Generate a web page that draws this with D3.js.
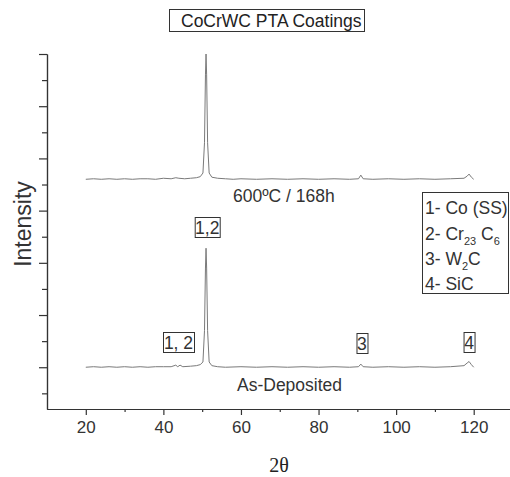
<!DOCTYPE html>
<html>
<head>
<meta charset="utf-8">
<script src="https://cdn.jsdelivr.net/npm/d3@7"></script>
<style>
  body { margin: 0; background: #fff; }
  svg { display: block; font-family: "Liberation Sans", Arial, sans-serif; }
</style>
</head>
<body>
<svg id="chart" width="510" height="477"></svg>
<script>
// XRD pattern after heat treatment, [2theta, intensity]
var heated = [
  [20, 3.60], [22, 3.61], [24, 3.60], [26, 3.61], [28, 3.60], [30, 3.61],
  [32, 3.60], [34, 3.61], [36, 3.61], [38, 3.60], [40, 3.62], [42, 3.61],
  [43.2, 3.63], [44, 3.62], [45.5, 3.61], [47, 3.62], [48.5, 3.63], [49.5, 3.65],
  [50.2, 3.72], [50.6, 4.3], [50.85, 5.6], [51.0, 6.0], [51.15, 5.6], [51.4, 4.3],
  [51.8, 3.72], [52.5, 3.64], [54, 3.62], [56, 3.61], [58, 3.60], [60, 3.61],
  [64, 3.60], [68, 3.61], [72, 3.60], [76, 3.61], [80, 3.60], [84, 3.61],
  [88, 3.60], [90.3, 3.61], [90.9, 3.68], [91.5, 3.61], [94, 3.60], [98, 3.61],
  [102, 3.60], [106, 3.61], [110, 3.60], [114, 3.61], [117.5, 3.62], [118.3, 3.66],
  [118.8, 3.70], [119.4, 3.64], [120, 3.60]
];

// XRD pattern as deposited
var deposited = [
  [20, 0.00], [22, 0.01], [24, 0.00], [26, 0.01], [28, 0.00], [30, 0.01],
  [32, 0.00], [34, 0.01], [36, 0.00], [38, 0.01], [40, 0.01], [42, 0.01],
  [43.2, 0.04], [43.7, 0.01], [44.3, 0.04], [45, 0.01], [47, 0.02], [48.5, 0.03],
  [49.5, 0.05], [50.2, 0.10], [50.6, 0.7], [50.85, 1.9], [51.0, 2.28], [51.15, 1.9],
  [51.4, 0.7], [51.8, 0.10], [52.5, 0.03], [54, 0.01], [56, 0.00], [60, 0.01],
  [64, 0.00], [68, 0.01], [72, 0.00], [76, 0.01], [80, 0.00], [84, 0.01],
  [88, 0.00], [90.3, 0.01], [90.9, 0.06], [91.5, 0.01], [94, 0.00], [98, 0.01],
  [102, 0.00], [106, 0.01], [110, 0.00], [114, 0.01], [117.5, 0.03], [118.3, 0.08],
  [118.8, 0.11], [119.4, 0.05], [120, 0.00]
];

var xMajor = [20, 40, 60, 80, 100, 120];
var xMinor = [30, 50, 70, 90, 110];
var yMajor = [0, 1, 2, 3, 4, 5, 6];
var yMinor = [-0.5, 0.5, 1.5, 2.5, 3.5, 4.5, 5.5];

var phases = ["1- Co (SS)", "2- Cr23 C6", "3- W2C", "4- SiC"];

var svg = d3.select("#chart");

var x = d3.scaleLinear().domain([10, 130]).range([47, 512.5]);
var y = d3.scaleLinear().domain([-0.8, 6]).range([409, 54]);

var axisColor = "#333";
var fs = "17.5px";

// x axis
var gx = svg.append("g").attr("transform", "translate(0,409)");
gx.call(d3.axisBottom(x).tickValues(xMajor).tickSize(6).tickSizeOuter(0).tickPadding(6));
gx.append("g").call(d3.axisBottom(x).tickValues(xMinor).tickSize(3).tickFormat("").tickSizeOuter(0));
gx.selectAll(".domain").attr("stroke", axisColor).attr("stroke-width", 1.2);
gx.selectAll(".tick line").attr("stroke", axisColor).attr("stroke-width", 1.2);
gx.selectAll(".tick text").attr("fill", "#333").style("font-size", "17px")
  .style("font-family", "Liberation Sans, Arial, sans-serif");

// y axis (no labels)
var gy = svg.append("g").attr("transform", "translate(47,0)");
gy.call(d3.axisLeft(y).tickValues(yMajor).tickSize(8).tickFormat("").tickSizeOuter(0));
gy.append("g").call(d3.axisLeft(y).tickValues(yMinor).tickSize(5).tickFormat("").tickSizeOuter(0));
gy.selectAll(".domain").attr("stroke", axisColor).attr("stroke-width", 1.2);
gy.selectAll(".tick line").attr("stroke", axisColor).attr("stroke-width", 1.2);

// patterns
var line = d3.line().x(d => x(d[0])).y(d => y(d[1]));
[heated, deposited].forEach(function (s) {
  svg.append("path").datum(s)
    .attr("d", line)
    .attr("fill", "none")
    .attr("stroke", "#7a7a7a")
    .attr("stroke-width", 1);
});

// axis titles
svg.append("text")
  .attr("transform", "translate(31,224) rotate(-90)")
  .attr("text-anchor", "middle")
  .attr("fill", "#333")
  .style("font-size", "23px")
  .text("Intensity");

svg.append("text")
  .attr("x", 279).attr("y", 472)
  .attr("text-anchor", "middle")
  .attr("fill", "#222")
  .style("font-family", "Liberation Serif, Times New Roman, serif")
  .style("font-size", "20px")
  .text("2θ");

// title in a box
svg.append("rect").attr("x", 169.5).attr("y", 9.5).attr("width", 195).attr("height", 22)
  .attr("fill", "none").attr("stroke", "#333").attr("stroke-width", 1);
svg.append("text").attr("x", 181).attr("y", 27)
  .attr("fill", "#222").style("font-size", fs)
  .text("CoCrWC PTA Coatings");

// series captions
svg.append("text").attr("x", 233).attr("y", 202)
  .attr("fill", "#333").style("font-size", fs).text("600ºC / 168h");
svg.append("text").attr("x", 237).attr("y", 391)
  .attr("fill", "#333").style("font-size", fs).text("As-Deposited");

// boxed peak labels
function boxLabel(t, cx, yTop, w) {
  svg.append("rect").attr("x", cx - w / 2 + 0.5).attr("y", yTop + 0.5)
    .attr("width", w).attr("height", 20)
    .attr("fill", "none").attr("stroke", "#333").attr("stroke-width", 1);
  svg.append("text").attr("x", cx).attr("y", yTop + 16.5)
    .attr("text-anchor", "middle").attr("fill", "#333")
    .style("font-size", fs).text(t);
}
boxLabel("1,2", x(51.3), 217, 25);
boxLabel("1, 2", x(43.9), 332, 31);
boxLabel("3", x(91.2), 333, 11);
boxLabel("4", x(118.8), 332, 11);

// phase legend
svg.append("rect").attr("x", 422.5).attr("y", 192.5).attr("width", 86).attr("height", 101)
  .attr("fill", "none").attr("stroke", "#333").attr("stroke-width", 1);
var lg = svg.append("g").attr("fill", "#333").style("font-size", fs);
function sub(t, s) {
  t.append("tspan").attr("dy", 5).style("font-size", "11px").text(s);
}
var t1 = lg.append("text").attr("x", 425).attr("y", 214).text(phases[0]);
var t2 = lg.append("text").attr("x", 425).attr("y", 240);
t2.append("tspan").text("2- Cr");
sub(t2, "23");
t2.append("tspan").attr("dy", -5).text(" C");
sub(t2, "6");
var t3 = lg.append("text").attr("x", 425).attr("y", 265);
t3.append("tspan").text("3- W");
sub(t3, "2");
t3.append("tspan").attr("dy", -5).text("C");
var t4 = lg.append("text").attr("x", 425).attr("y", 290).text(phases[3]);
</script>
</body>
</html>
